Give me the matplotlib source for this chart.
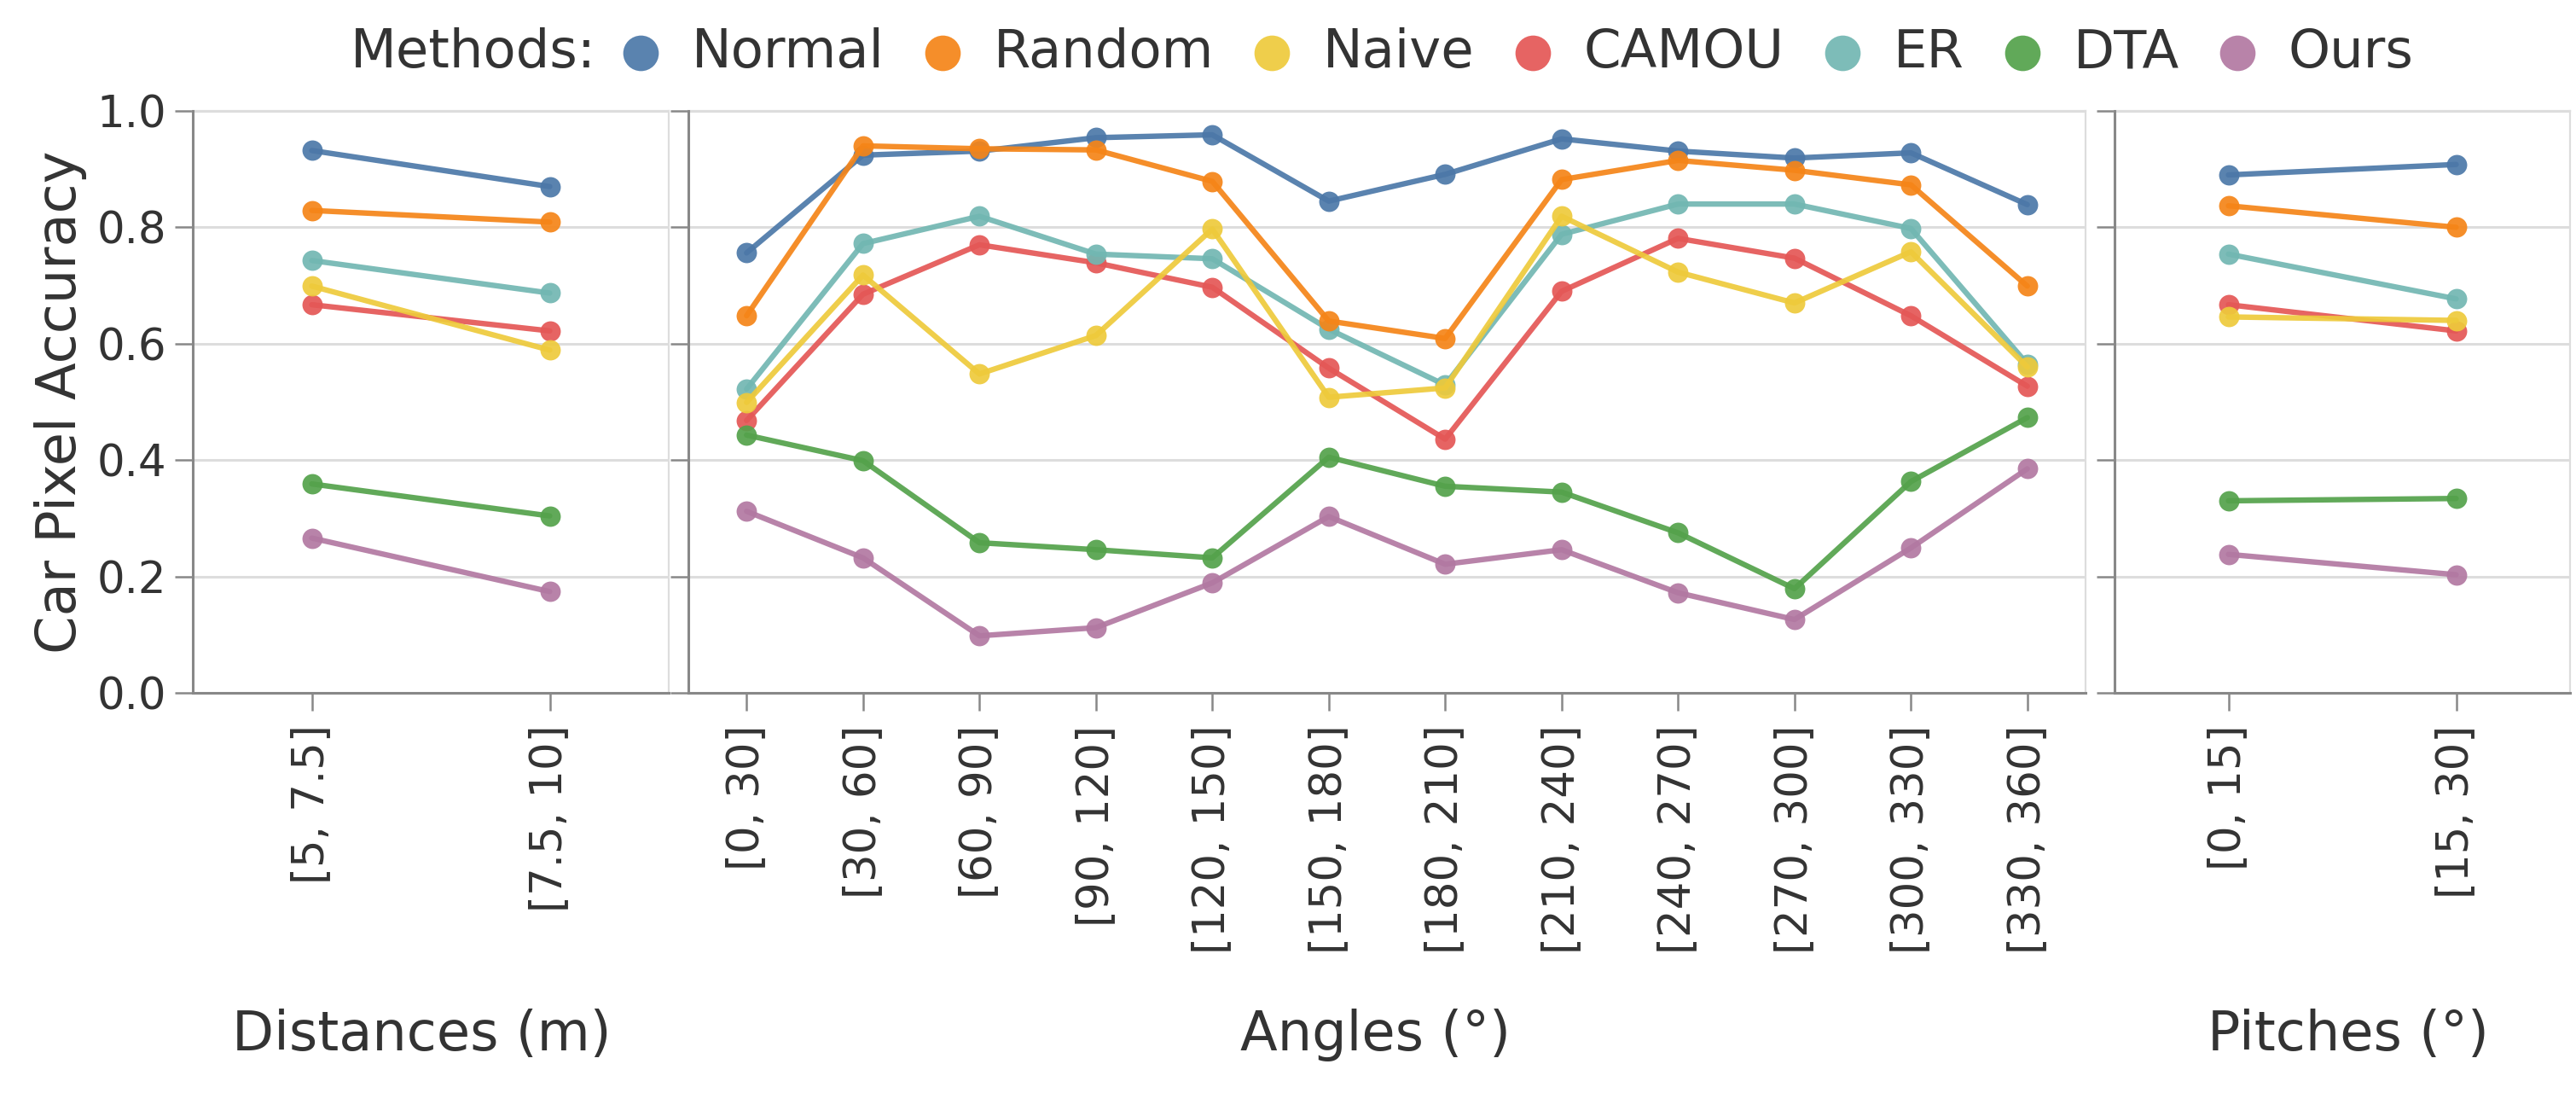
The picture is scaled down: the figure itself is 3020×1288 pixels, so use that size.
import matplotlib
matplotlib.use('Agg')
import matplotlib.pyplot as plt
from matplotlib.lines import Line2D

# ---------------- data ----------------
methods = ["Normal", "Random", "Naive", "CAMOU", "ER", "DTA", "Ours"]
colors = {"Normal": "#4c78a8", "Random": "#f58518", "Naive": "#eeca3b",
          "CAMOU": "#e45756", "ER": "#72b7b2", "DTA": "#54a24b", "Ours": "#b279a2"}

distance_labels = ["[5, 7.5]", "[7.5, 10]"]
angle_labels = ["[0, 30]", "[30, 60]", "[60, 90]", "[90, 120]", "[120, 150]", "[150, 180]",
                "[180, 210]", "[210, 240]", "[240, 270]", "[270, 300]", "[300, 330]", "[330, 360]"]
pitch_labels = ["[0, 15]", "[15, 30]"]

dist_normal = [0.932, 0.870]
dist_random = [0.829, 0.809]
dist_naive = [0.699, 0.589]
dist_camou = [0.667, 0.622]
dist_er = [0.743, 0.687]
dist_dta = [0.359, 0.304]
dist_ours = [0.266, 0.174]

ang_normal = [0.756, 0.924, 0.931, 0.954, 0.959, 0.845, 0.891, 0.952, 0.931, 0.919, 0.928, 0.839]
ang_random = [0.648, 0.940, 0.935, 0.933, 0.879, 0.639, 0.609, 0.882, 0.915, 0.898, 0.873, 0.699]
ang_naive = [0.499, 0.718, 0.548, 0.614, 0.797, 0.508, 0.524, 0.819, 0.723, 0.670, 0.758, 0.560]
ang_camou = [0.468, 0.685, 0.770, 0.739, 0.697, 0.558, 0.436, 0.690, 0.781, 0.747, 0.648, 0.527]
ang_er = [0.522, 0.772, 0.819, 0.754, 0.746, 0.625, 0.529, 0.788, 0.840, 0.840, 0.798, 0.565]
ang_dta = [0.443, 0.399, 0.258, 0.246, 0.232, 0.405, 0.355, 0.345, 0.275, 0.179, 0.363, 0.473]
ang_ours = [0.312, 0.232, 0.098, 0.112, 0.189, 0.303, 0.221, 0.246, 0.172, 0.126, 0.249, 0.385]

pitch_normal = [0.890, 0.908]
pitch_random = [0.837, 0.800]
pitch_naive = [0.646, 0.640]
pitch_camou = [0.667, 0.622]
pitch_er = [0.754, 0.677]
pitch_dta = [0.330, 0.334]
pitch_ours = [0.238, 0.203]

distance_data = {"Normal": dist_normal, "Random": dist_random, "Naive": dist_naive,
                 "CAMOU": dist_camou, "ER": dist_er, "DTA": dist_dta, "Ours": dist_ours}
angle_data = {"Normal": ang_normal, "Random": ang_random, "Naive": ang_naive,
              "CAMOU": ang_camou, "ER": ang_er, "DTA": ang_dta, "Ours": ang_ours}
pitch_data = {"Normal": pitch_normal, "Random": pitch_random, "Naive": pitch_naive,
              "CAMOU": pitch_camou, "ER": pitch_er, "DTA": pitch_dta, "Ours": pitch_ours}

# ---------------- style ----------------
W, H = 3020, 1288
DPI = 200
TEXT = "#333333"
AXIS = "#888888"
GRID = "#dddddd"
plt.rcParams['font.family'] = ['DejaVu Sans']

fig = plt.figure(figsize=(W / DPI, H / DPI), dpi=DPI)
fig.patch.set_facecolor('white')

TOP, BOT = 130, 812


def make_ax(l, r):
    return fig.add_axes([l / W, 1 - BOT / H, (r - l) / W, (BOT - TOP) / H])


draw_order = sorted(methods)  # later series drawn on top


def panel(ax, labels, data, show_ylabels):
    n = len(labels)
    xs = list(range(n))
    for z, m in enumerate(draw_order):
        ax.plot(xs, data[m], color=colors[m], lw=2.3, marker='o', markersize=8.6,
                markeredgewidth=0, alpha=0.92, zorder=3 + z, solid_capstyle='round')
    ax.set_xlim(-0.5, n - 0.5)
    ax.set_ylim(0, 1.0)
    ax.set_xticks(xs)
    ax.set_xticklabels(labels, rotation=90, fontsize=18.5, color=TEXT)
    ax.set_yticks([0, 0.2, 0.4, 0.6, 0.8, 1.0])
    if show_ylabels:
        ax.set_yticklabels(["0.0", "0.2", "0.4", "0.6", "0.8", "1.0"], fontsize=18.5, color=TEXT)
    else:
        ax.set_yticklabels([])
    ax.tick_params(axis='x', length=7.5, width=0.9, color=AXIS, pad=6)
    ax.tick_params(axis='y', length=7.5, width=0.9, color=AXIS, pad=3.5)
    ax.grid(axis='y', color=GRID, lw=1.1, zorder=0)
    ax.set_axisbelow(True)
    for s in ['left', 'bottom']:
        ax.spines[s].set_color(AXIS)
        ax.spines[s].set_linewidth(1.1)
        ax.spines[s].set_zorder(20)
    for s in ['top', 'right']:
        ax.spines[s].set_color(GRID)
        ax.spines[s].set_linewidth(0.8)


ax1 = make_ax(226, 784)
ax2 = make_ax(807, 2445)
ax3 = make_ax(2479, 3013)
panel(ax1, distance_labels, distance_data, True)
panel(ax2, angle_labels, angle_data, False)
panel(ax3, pitch_labels, pitch_data, False)

# axis titles
fig.text(71 / W, 1 - 471 / H, "Car Pixel Accuracy", rotation=90, ha='center', va='center',
         fontsize=23, color=TEXT)
fig.text(494 / W, 1 - 1213 / H, "Distances (m)", ha='center', va='center', fontsize=23, color=TEXT)
fig.text(1613 / W, 1 - 1213 / H, "Angles (°)", ha='center', va='center', fontsize=23, color=TEXT)
fig.text(2753 / W, 1 - 1213 / H, "Pitches (°)", ha='center', va='center', fontsize=23, color=TEXT)

# legend (manual, horizontal)
renderer = fig.canvas.get_renderer()
LY = 62
x = 411
t = fig.text(x / W, 1 - LY / H, "Methods:", ha='left', va='center', fontsize=22.5, color=TEXT)
x = t.get_window_extent(renderer).x1
gap = 52
for m in methods:
    cx = x + gap
    fig.add_artist(Line2D([cx / W], [1 - LY / H], marker='o', markersize=15, markeredgewidth=0,
                          color=colors[m], alpha=0.92, transform=fig.transFigure))
    t = fig.text((cx + 60) / W, 1 - LY / H, m, ha='left', va='center', fontsize=22.5, color=TEXT)
    x = t.get_window_extent(renderer).x1
    gap = 68

fig.savefig("out.png", dpi=DPI, facecolor='white')
